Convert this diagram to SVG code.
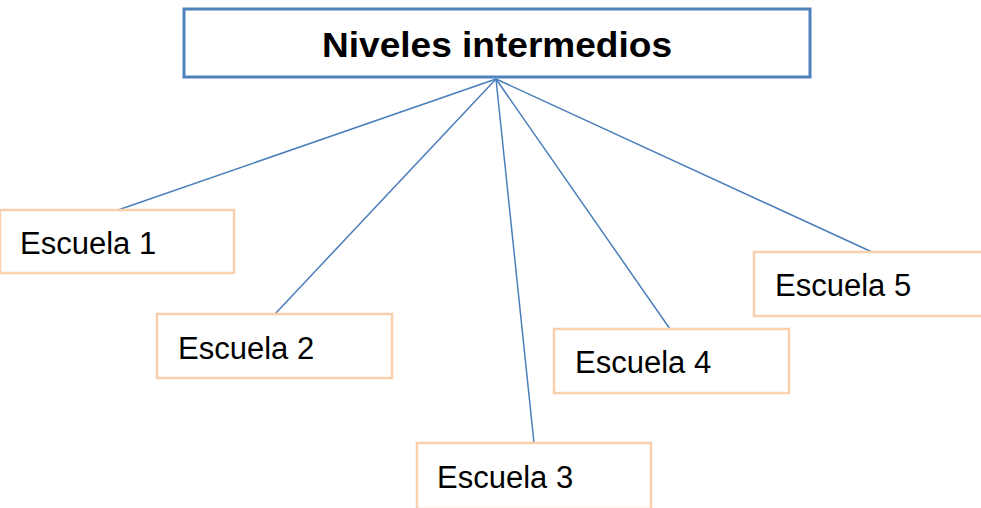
<svg xmlns="http://www.w3.org/2000/svg" width="981" height="508" viewBox="0 0 981 508">
<style>
.box{fill:#fff;stroke:#FAD0AC;stroke-width:2.5}
.lbl{font-family:"Liberation Sans",Arial,sans-serif;font-size:31px;fill:#000}
.title{font-family:"Liberation Sans",Arial,sans-serif;font-size:35px;font-weight:bold;fill:#000}
.conn{stroke:#4A7EBB;stroke-width:1.5;fill:none}
</style>
<rect width="981" height="508" fill="#fff"/>
<g id="connectors">
<line class="conn" x1="496" y1="79" x2="118" y2="210"/>
<line class="conn" x1="496" y1="79" x2="275" y2="314"/>
<line class="conn" x1="496" y1="79" x2="534" y2="443"/>
<line class="conn" x1="496" y1="79" x2="670" y2="329"/>
<line class="conn" x1="496" y1="79" x2="872" y2="252"/>
</g>
<g id="title">
<rect x="184" y="9" width="626" height="68" fill="#fff" stroke="#4F81BD" stroke-width="3"/>
<text class="title" x="322" y="57" textLength="350" lengthAdjust="spacingAndGlyphs">Niveles intermedios</text>
</g>
<g id="escuela1">
<rect class="box" x="0" y="210" width="234" height="63"/>
<text class="lbl" x="20" y="254">Escuela 1</text>
</g>
<g id="escuela2">
<rect class="box" x="157" y="314" width="235" height="64"/>
<text class="lbl" x="178" y="359">Escuela 2</text>
</g>
<g id="escuela3">
<rect class="box" x="417" y="443" width="234" height="66"/>
<text class="lbl" x="437" y="488">Escuela 3</text>
</g>
<g id="escuela4">
<rect class="box" x="554" y="329" width="235" height="64"/>
<text class="lbl" x="575" y="373">Escuela 4</text>
</g>
<g id="escuela5">
<rect class="box" x="754" y="252" width="230" height="64"/>
<text class="lbl" x="775" y="296">Escuela 5</text>
</g>
</svg>
